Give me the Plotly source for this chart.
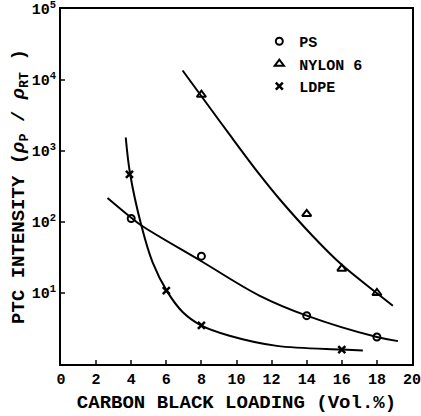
import plotly.graph_objects as go

# measured data points
ps_x = [4, 8, 14, 18]
ps_y = [112, 33, 4.8, 2.4]
nylon_x = [8, 14, 16, 18]
nylon_y = [6200, 130, 22, 10]
ldpe_x = [3.9, 6, 8, 16]
ldpe_y = [470, 10.8, 3.5, 1.6]

# fitted curves
ps_fit_x = [2.65, 4, 4.65, 8, 11.3, 14, 18, 19.2]
ps_fit_y = [218, 115, 87, 28, 9.2, 4.8, 2.4, 2.1]
nylon_fit_x = [6.93, 7.94, 9.6, 11.31, 12.46, 14.34, 16.0, 18.06, 18.91]
nylon_fit_y = [13600, 6200, 1710, 468, 209, 63.5, 24.9, 9.66, 6.6]
ldpe_fit_x = [3.69, 3.93, 4.59, 5.22, 6.02, 6.93, 7.98, 9.6, 12.3, 16, 17.2]
ldpe_fit_y = [1550, 490, 87, 27, 10.8, 5.4, 3.5, 2.5, 1.8, 1.6, 1.55]

y_tickvals = [10, 100, 1000, 10000, 100000]
y_ticktext = ["10<sup>1</sup>", "10<sup>2</sup>", "10<sup>3</sup>", "10<sup>4</sup>", "10<sup>5</sup>"]
x_tickvals = [0, 2, 4, 6, 8, 10, 12, 14, 16, 18, 20]

FONT = "Liberation Mono"
fig = go.Figure()

line_style = dict(color="black", width=2, shape="spline", smoothing=1.0)
for fx, fy in [(ps_fit_x, ps_fit_y), (nylon_fit_x, nylon_fit_y), (ldpe_fit_x, ldpe_fit_y)]:
    fig.add_trace(go.Scatter(x=fx, y=fy, mode="lines", line=line_style,
                             showlegend=False, hoverinfo="skip"))

fig.add_trace(go.Scatter(x=ps_x, y=ps_y, mode="markers", name="PS", legendgroup="a",
                         marker=dict(symbol="circle-open", size=7, color="black",
                                     line=dict(width=2))))
fig.add_trace(go.Scatter(x=nylon_x, y=nylon_y, mode="markers", name="NYLON 6", legendgroup="b",
                         marker=dict(symbol="triangle-up-open", size=8, color="black",
                                     line=dict(width=2))))
fig.add_trace(go.Scatter(x=ldpe_x, y=ldpe_y, mode="markers", name="LDPE", legendgroup="c",
                         marker=dict(symbol="x-thin-open", size=7, color="black",
                                     line=dict(width=2.5))))

fig.update_layout(
    width=421, height=416,
    margin=dict(l=61, r=9, t=9, b=52),
    paper_bgcolor="white", plot_bgcolor="white",
    font=dict(family=FONT, color="black", size=14, weight="bold"),
    legend=dict(x=0.565, y=0.955, xanchor="left", yanchor="top",
                bgcolor="rgba(0,0,0,0)", traceorder="grouped",
                font=dict(family=FONT, size=15, weight="bold"),
                itemwidth=30, tracegroupgap=0),
    xaxis=dict(range=[0, 20], tickvals=x_tickvals, ticks="inside", ticklen=4,
               tickwidth=1.5, showgrid=False, zeroline=False, showline=True,
               linecolor="black", linewidth=2, mirror=True, automargin=False,
               ticklabeloverflow="allow",
               tickfont=dict(family=FONT, size=15, weight="bold"),
               title=dict(text="CARBON BLACK LOADING (Vol.%)",
                          font=dict(family=FONT, size=19, weight="bold"), standoff=7)),
    yaxis=dict(type="log", range=[0, 5], tickvals=y_tickvals, ticktext=y_ticktext,
               ticks="inside", ticklen=4, tickwidth=1.5, showgrid=False,
               zeroline=False, showline=True, linecolor="black", linewidth=2,
               mirror=True, automargin=False, ticklabeloverflow="allow",
               tickfont=dict(family=FONT, size=15),
               title=dict(text="PTC INTENSITY (<i>ρ</i><sub>P</sub> / <i>ρ</i><sub>RT</sub> )",
                          font=dict(family=FONT, size=19, weight="bold"), standoff=2)),
)

fig.write_html("out.html", config={"displayModeBar": False},
               post_script="document.body.style.margin='0';")
